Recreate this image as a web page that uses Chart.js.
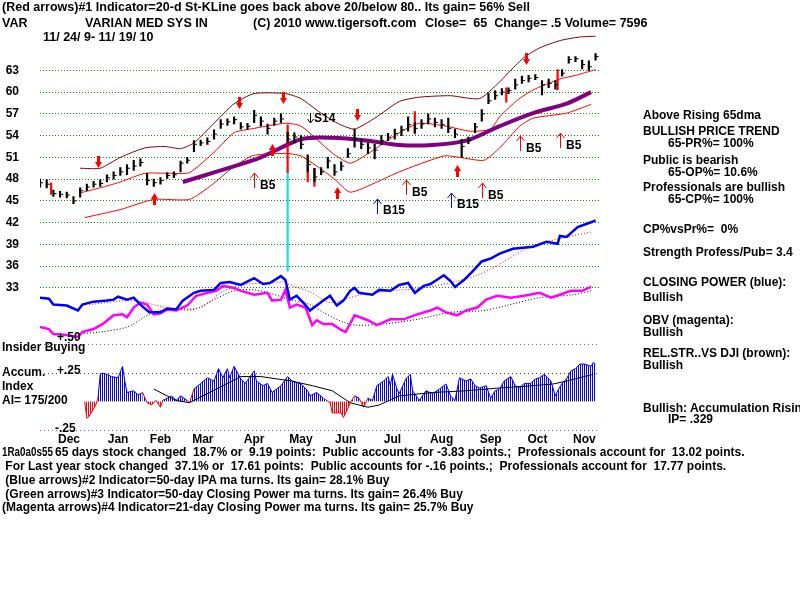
<!DOCTYPE html>
<html><head><meta charset="utf-8">
<script src="https://cdn.jsdelivr.net/npm/chart.js@4.4.1/dist/chart.umd.min.js"></script>
<style>
body{margin:0;background:#fff;}
#wrap{position:relative;width:800px;height:600px;overflow:hidden;background:#fff;}
#c{position:absolute;left:0;top:0;}
.t{position:absolute;font:bold 12px "Liberation Sans",Arial,sans-serif;line-height:14px;white-space:pre;color:#000;}
.h{font-size:12.5px;}
</style></head>
<body><div id="wrap"><canvas id="c" width="800" height="600"></canvas></div>
<script>
// ---------- x axis (trading-day index 0..249, 11/24/09 - 11/19/10) ----------
const monthDays = [13,35,54,73,96,117,137,158,180,202,223,244];
const monthLabels = ["Dec","Jan","Feb","Mar","Apr","May","Jun","Jul","Aug","Sep","Oct","Nov"];
const priceTicks = [33,36,39,42,45,48,51,54,57,60,63];

// ---------- price bars (every 3rd trading day) ----------
const barStep = 3;
const barClose = [47.5,47.3,46.0,45.9,45.8,45.0,46.4,46.9,47.3,47.4,
 48.2,48.5,49.0,49.5,49.8,50.3,47.8,47.5,47.8,48.5,
 48.6,50.2,50.6,52.8,53.0,53.2,54.2,55.6,55.9,56.2,
 55.2,55.3,56.8,56.0,55.0,56.0,56.3,53.5,53.8,52.8,
 50.0,48.3,49.0,50.5,49.0,49.8,51.5,53.5,52.8,52.3,
 52.0,53.3,53.8,54.3,54.8,55.5,55.0,55.6,56.3,55.8,
 55.5,55.0,54.2,52.5,53.3,55.2,57.0,58.8,59.5,60.0,
 60.2,61.0,61.6,61.9,62.0,61.0,61.2,61.0,62.6,64.5,
 64.6,63.8,63.5,64.9];
const barHigh = [48.0,47.9,46.5,46.3,46.2,45.6,46.8,47.3,47.7,47.9,
 48.6,49.0,49.6,50.0,50.6,50.8,48.8,48.0,48.2,48.9,
 49.0,50.5,51.0,53.3,53.4,53.7,54.8,56.2,56.3,56.6,
 55.8,55.7,57.5,56.6,55.6,56.4,57.0,54.5,54.4,54.0,
 51.2,49.5,49.6,51.0,50.0,50.4,52.2,54.9,53.5,53.0,
 52.8,54.0,54.3,54.9,55.3,56.6,55.8,56.2,57.0,56.4,
 56.2,56.4,54.9,53.5,53.8,55.7,57.6,59.8,60.2,60.5,
 60.6,61.8,62.2,62.3,62.4,61.6,61.8,61.6,63.1,64.9,
 64.9,64.4,64.3,65.3];
const barLow = [46.9,46.8,45.6,45.5,45.4,44.6,45.5,46.4,46.9,47.0,
 47.6,48.0,48.5,48.6,49.2,49.8,47.2,47.0,47.3,48.1,
 48.2,49.0,50.2,51.8,52.6,52.8,53.5,55.0,55.4,55.6,
 54.9,54.9,55.8,55.3,54.2,55.4,55.8,53.0,53.0,52.2,
 49.0,47.6,48.6,49.5,48.5,49.2,51.0,52.4,52.2,51.5,
 50.8,52.8,53.3,53.5,54.0,54.6,54.4,55.0,55.6,55.2,
 55.0,54.4,53.7,51.0,52.9,54.4,56.0,58.4,59.0,59.6,
 59.8,60.4,61.2,61.4,61.7,59.6,60.6,60.4,62.2,64.0,
 64.2,63.2,63.0,64.4];
// big-volume red bars and the 6 May drop
const redDays = [5,111,120,123,168,209,232];
const redLow  = [45.9,48.9,47.6,47.0,54.2,58.6,60.3];
const redHigh = [47.5,55.5,51.4,49.5,57.3,60.6,63.1];
const crashDays = [111];
const crashLow = [35.3];
const crashHigh = [48.9];

// ---------- bands ----------
const upperDays = [18,27,36,47,56,63,69,78,87,96,110,117,125,134,141,150,161,170,184,197,206,211,217,224,233,242,249];
const upperVals = [49.5,49.5,51.0,52.3,52.5,52.2,53.0,55.7,58.4,59.8,59.8,59.1,57.3,55.6,54.9,56.4,58.7,59.3,59.5,59.1,61.4,63.0,64.8,66.1,67.1,67.6,67.7];
const midDays = [18,27,36,47,58,67,78,87,96,110,117,131,139,147,161,170,182,193,202,206,214,221,233,240,249];
const midVals = [46.1,46.8,47.6,48.8,48.8,48.9,51.7,54.4,55.0,55.7,55.3,51.6,50.2,51.5,54.4,55.7,55.3,54.6,54.9,56.6,58.9,60.3,61.8,62.3,63.1];
const lowDays = [20,36,51,67,77,86,95,103,112,117,125,132,139,151,161,181,188,199,206,215,221,236,247];
const lowVals = [42.7,43.8,45.2,45.2,47.2,49.5,51.2,51.5,51.5,51.2,49.6,48.0,46.2,47.6,49.0,51.2,51.0,50.6,52.3,55.3,56.4,57.1,58.3];
const ma65Days = [64,81,99,117,131,147,161,176,191,206,221,236,247];
const ma65Vals = [47.6,49.2,51.0,53.5,53.7,53.3,52.7,52.7,53.3,55.3,57.1,58.4,60.0];

// ---------- closing power (blue) and OBV (magenta) ----------
const cpDays = [0,4,6,12,17,19,24,30,33,35,39,42,45,49,54,57,61,64,69,72,78,81,85,90,96,100,103,108,110,112,115,118,121,127,130,133,136,139,141,143,149,152,157,161,165,168,172,175,181,184,186,190,194,198,202,206,212,221,227,232,233,236,241,247,249];
const cpVals = [29.2,28.3,23.3,22.5,18.3,23.3,25.8,26.7,27.5,30,27.5,29.2,23.3,16.7,16.7,20,19.2,26.7,33.3,35,35.8,41.7,42.5,40,45.8,40.8,41.7,47.5,44.2,27.5,30.8,25,18.3,26.7,30.8,22.5,26.7,35,37.5,33.3,31.7,35.8,35,40,41.7,33.3,39.2,40.8,48.3,43.3,38.3,44.2,51.7,60,62.5,66.7,70.8,72.5,76.7,75,81.7,80.8,89.2,93.3,95];
const cpMaDays = [22,42,57,72,81,90,102,109,112,121,130,142,157,172,187,196,205,214,221,236,247];
const cpMaVals = [23.3,26.7,20.8,20.8,33.3,40,41.7,42.5,40,34.2,25,30.8,35,37.5,43.3,48.3,56.7,66.7,73.3,80.8,85];
const obvDays = [0,4,6,12,17,19,24,28,33,37,39,42,45,48,51,54,57,61,66,70,75,79,82,87,90,96,102,104,108,110,112,115,119,122,124,127,131,135,137,141,147,151,157,163,169,175,178,182,187,191,196,200,205,211,217,224,229,233,238,243,247];
const obvVals = [4.2,2.5,-1.7,-2.5,-4.2,0,2.5,6.7,14.2,15,12.5,20.8,25,23.3,15,15.8,19.2,18.3,22.5,30.8,33.3,35,39.2,37.5,35,31.7,33.3,26.7,27.5,35.8,20.8,23.3,20.8,5.8,10,6.7,6.7,1.7,0,14.2,10,5.8,10.8,10.8,15,18.3,20.8,16.7,14.2,18.3,20.8,27.5,30.8,29.2,30.8,33.3,29.2,31.7,35,35,38.3];
const obvMaDays = [17,27,39,49,57,69,78,87,96,104,112,121,127,136,142,154,169,184,199,209,224,239,247];
const obvMaVals = [-1.7,0,4.2,15,19.2,19.2,27.5,35,35.8,32.5,27.5,23.3,16.7,8.3,5.8,6.7,10.8,16.7,18.3,22.5,29.2,31.7,35];

// ---------- relative strength vs DJI and insider line ----------
const rsDays = [3,12,18,21,24,30,39,44,48,54,64,69,75,81,87,94,102,109,113,117,121,127,131,136,142,147,154,161,166,174,179,185,191,197,202,209,218,226,230,234,242,248];
const rsVals = [18,15.3,13.3,14.7,15.3,21.3,24.7,26.7,22,22,24.7,25.3,27.3,29.3,30,28,28,28,25.3,25.3,22,25.3,24.7,26.7,28.7,32,32,33.3,33.3,32,33.3,31.3,32,38,38.7,38,38.7,38,36.7,38.7,41.3,42];
const rsMaDays = [49,64,79,94,109,117,131,147,161,176,191,206,221,236,248];
const rsMaVals = [21.3,24.7,26.7,28,28,25.3,24.7,28.7,32,33.3,35.3,36.7,38,38.7,40.7];
const insiderDays = [20,251];
const insiderVals = [36,36];

// ---------- accumulation index ----------
const accDays = [20,21,22,25,26,27,28,30,32,35,37,38,39,42,44,45,46,48,50,52,54,55,57,59,61,63,66,67,69,72,75,78,80,82,84,85,87,90,92,96,97,100,102,104,108,111,113,117,120,121,124,127,130,131,135,136,138,139,141,143,145,147,149,151,154,156,157,158,160,161,164,166,167,170,173,176,179,182,184,186,188,191,193,195,197,200,202,204,206,208,211,213,215,217,220,222,224,226,229,231,232,234,236,238,240,242,244,247,248,249];
const accVals = [0,-0.147,-0.13,-0.03,0.03,0.24,0.25,0.24,0.22,0.21,
 0.31,0.18,0.08,0.095,0.06,0.07,0.08,-0.01,-0.03,0.01,
 -0.05,0.01,0.03,0.05,0.01,0.05,0.01,-0.01,0.11,0.16,
 0.21,0.18,0.29,0.21,0.29,0.21,0.31,0.2,0.16,0.27,
 0.18,0.14,0.16,0.08,0.14,0.22,0.18,0.155,0.095,0.05,
 0.08,0.03,-0.01,-0.1,-0.1,-0.14,-0.06,-0.01,0.05,0.03,
 -0.05,0.03,0.01,0.14,0.18,0.22,0.14,0.24,0.11,0.07,
 0.2,0.24,0.095,0.01,0.095,0.07,0.11,0.155,0.05,0.01,
 0.21,0.18,0.2,0.14,0.12,0.14,0.03,0.095,0.11,0.18,
 0.22,0.14,0.12,0.16,0.16,0.2,0.21,0.24,0.18,0.05,
 0.095,0.16,0.2,0.27,0.29,0.33,0.33,0.31,0.345,0.33];
const accMaDays = [51,57,61,67,90,99,113,122,131,139,147,152,161,176,191,206,221,230,236,248];
const accMaVals = [0.11,0.05,0.01,-0.01,0.22,0.22,0.18,0.14,0.095,-0.01,-0.05,-0.03,0.05,0.08,0.095,0.12,0.14,0.155,0.18,0.24];
const accTicks = [-0.25,0.25,0.5];

// ---------- signal arrows ----------
const bigDownDays = [26,89,109,142,218];
const bigDownTips = [49.6,57.7,58.4,56.0,63.7];
const bigUpDays = [51,104,133,187];
const bigUpTips = [46.1,52.9,46.9,49.9];
const b5Days = [96,164,198,215,233];
const b5Tips = [48.9,47.9,47.5,53.9,54.4];
const b15Days = [151,184];
const b15Tips = [45.2,46.1];
const s14Days = [121];
const s14Tips = [55.8];

// ---------- texts ----------
const headerTexts = [
 ["(Red arrows)#1 Indicator=20-d St-KLine goes back above 20/below 80.. Its gain= 56% Sell",2,7],
 ["VAR",2,23],["VARIAN MED SYS IN",85,23],["(C) 2010 www.tigersoft.com",253,23],
 ["Close=  65  Change= .5 Volume= 7596",425,23],
 ["11/ 24/ 9- 11/ 19/ 10",43,37]
];
const texts = [
 ["Above Rising 65dma",643,115],["BULLISH PRICE TREND",643,131],["65-PR%= 100%",668,143],
 ["Public is bearish",643,160],["65-OP%= 10.6%",668,172],
 ["Professionals are bullish",643,187],["65-CP%= 100%",668,199],
 ["CP%vsPr%=  0%",643,229],["Strength Profess/Pub= 3.4",643,252],
 ["CLOSING POWER (blue):",643,282],["Bullish",643,297],
 ["OBV (magenta):",643,320],["Bullish",643,332],
 ["REL.STR..VS DJI (brown):",643,353],["Bullish",643,365],
 ["Bullish: Accumulation Rising",643,408],["IP= .329",668,419],
 ["+.50",57,337],["Insider Buying",2,347],["Accum.",2,372],["+.25",57,370],
 ["Index",2,386],["AI= 175/200",2,400],["-.25",55,428],
 ["65 days stock changed  18.7% or  9.19 points:  Public accounts for -3.83 points.;  Professionals account for  13.02 points.",55,452],
 [" For Last year stock changed  37.1% or  17.61 points:  Public accounts for -.16 points.;  Professionals account for  17.77 points.",2,466],
 [" (Blue arrows)#2 Indicator=50-day IPA ma turns. Its gain= 28.1% Buy",2,480],
 [" (Green arrows)#3 Indicator=50-day Closing Power ma turns. Its gain= 26.4% Buy",2,494],
 ["(Magenta arrows)#4 Indicator=21-day Closing Power ma turns. Its gain= 25.7% Buy",2,507]
];

const wrap = document.getElementById('wrap');
function addText(s,x,y,cls){
  const d=document.createElement('div'); d.className='t'+(cls?' '+cls:''); d.textContent=s;
  d.style.left=x+'px'; d.style.top=(y-7)+'px'; wrap.appendChild(d); return d;
}
headerTexts.forEach(([s,x,y])=>addText(s,x,y,'h'));
texts.forEach(([s,x,y])=>addText(s,x,y));
(function(){ const d=addText('1Ra0a0s55',2,452); d.style.transform='scaleX(0.82)'; d.style.transformOrigin='0 0'; })();

const pts = (ds, vs) => ds.map((d,i)=>({x:d, y:vs[i]}));
const barDays = barClose.map((_,i)=>i*barStep);

const tmp = document.createElement('canvas').getContext('2d');
function stripe(color){
  const c=document.createElement('canvas'); c.width=2; c.height=1;
  const g=c.getContext('2d'); g.fillStyle=color; g.fillRect(0,0,1,1);
  return tmp.createPattern(c,'repeat');
}
const bluePat = stripe('#0000ff');
const redPat = stripe('#ff0000');

const FONT = '"Liberation Sans", Arial, sans-serif';

const annot = {
  id:'annot',
  afterDatasetsDraw(chart){
    const ctx=chart.ctx, x=chart.scales.x, y=chart.scales.y;
    ctx.save();
    ctx.fillStyle='#ff0000';
    bigDownDays.forEach((d,i)=>{
      const px=Math.round(x.getPixelForValue(d)), py=Math.round(y.getPixelForValue(bigDownTips[i]));
      ctx.fillRect(px-1, py-12, 3, 7);
      ctx.beginPath(); ctx.moveTo(px-3, py-6); ctx.lineTo(px+4, py-6); ctx.lineTo(px+0.5, py); ctx.closePath(); ctx.fill();
    });
    bigUpDays.forEach((d,i)=>{
      const px=Math.round(x.getPixelForValue(d)), py=Math.round(y.getPixelForValue(bigUpTips[i]));
      ctx.fillRect(px-1, py+5, 3, 7);
      ctx.beginPath(); ctx.moveTo(px-3, py+6); ctx.lineTo(px+4, py+6); ctx.lineTo(px+0.5, py); ctx.closePath(); ctx.fill();
    });
    const thinUp=(px,py,col)=>{
      ctx.strokeStyle=col; ctx.lineWidth=1; ctx.beginPath();
      ctx.moveTo(px+0.5,py); ctx.lineTo(px+0.5,py+15);
      ctx.moveTo(px-3.5,py+5); ctx.lineTo(px+0.5,py); ctx.lineTo(px+4.5,py+5); ctx.stroke();
    };
    ctx.font='bold 12px '+FONT; ctx.textBaseline='middle';
    b5Days.forEach((d,i)=>{
      const px=Math.round(x.getPixelForValue(d)), py=Math.round(y.getPixelForValue(b5Tips[i]));
      thinUp(px,py,'#ff0000'); ctx.fillStyle='#000'; ctx.fillText('B5',px+6,py+13);
    });
    b15Days.forEach((d,i)=>{
      const px=Math.round(x.getPixelForValue(d)), py=Math.round(y.getPixelForValue(b15Tips[i]));
      thinUp(px,py,'#0000ff'); ctx.fillStyle='#000'; ctx.fillText('B15',px+6,py+12);
    });
    s14Days.forEach((d,i)=>{
      const px=Math.round(x.getPixelForValue(d)), py=Math.round(y.getPixelForValue(s14Tips[i]));
      ctx.strokeStyle='#000'; ctx.lineWidth=1; ctx.beginPath();
      ctx.moveTo(px+0.5,py-10); ctx.lineTo(px+0.5,py);
      ctx.moveTo(px-2.5,py-4); ctx.lineTo(px+0.5,py); ctx.lineTo(px+3.5,py-4); ctx.stroke();
      ctx.fillStyle='#000'; ctx.fillText('S14',px+4,py-4);
    });
    ctx.restore();
  }
};

const line = (data, axis, color, width, extra) => Object.assign({
  type:'line', data, yAxisID:axis, borderColor:color, borderWidth:width,
  pointRadius:0, pointHoverRadius:0, tension:0, fill:false
}, extra||{});

new Chart(document.getElementById('c'), {
  type:'line',
  data:{ datasets:[
    {type:'bar', data: barDays.map((d,i)=>({x:d,y:[barLow[i],barHigh[i]]})), yAxisID:'y', backgroundColor:'#000', barThickness:1.5, grouped:false, borderWidth:0},
    {type:'line', data: pts(barDays,barClose), yAxisID:'y', showLine:false, pointStyle:'dash', pointRadius:3, pointBorderWidth:1, pointBorderColor:'#000', pointBackgroundColor:'#000', pointHoverRadius:0},
    {type:'bar', data: redDays.map((d,i)=>({x:d,y:[redLow[i],redHigh[i]]})), yAxisID:'y', backgroundColor:'#ff0000', barThickness:1.5, grouped:false, borderWidth:0},
    {type:'bar', data: crashDays.map((d,i)=>({x:d,y:[crashLow[i],crashHigh[i]]})), yAxisID:'y', backgroundColor:'#00e8e8', barThickness:1.5, grouped:false, borderWidth:0},
    line(pts(ma65Days,ma65Vals),'y','#800080',4,{tension:0.3}),
    line(pts(upperDays,upperVals),'y','#800000',1,{tension:0.2}),
    line(pts(midDays,midVals),'y','#ff0000',1,{tension:0.2}),
    line(pts(lowDays,lowVals),'y','#ff0000',1,{tension:0.2}),
    line(pts(cpDays,cpVals),'cp','#0000ff',2.5),
    line(pts(obvDays,obvVals),'cp','#ff00ff',2.5),
    line(pts(cpMaDays,cpMaVals),'cp','#ff0000',1,{borderDash:[1,2],tension:0.3}),
    line(pts(obvMaDays,obvMaVals),'cp','#000000',1,{borderDash:[1,2],tension:0.3}),
    line(pts(rsDays,rsVals),'rs','#000000',2.5),
    line(pts(rsMaDays,rsMaVals),'rs','#ff0000',1,{borderDash:[1,2],tension:0.3}),
    line(pts(insiderDays,insiderVals),'rs','#800060',1),
    line(pts(accMaDays,accMaVals),'acc','#000000',1),
    line(pts(accDays,accVals),'acc','#0000ff',1,{fill:{target:'origin',above:bluePat,below:redPat},
      segment:{borderColor:c=>(c.p0.parsed.y<0||c.p1.parsed.y<0)?'#ff0000':'#0000ff'}})
  ]},
  options:{
    responsive:false, animation:false, devicePixelRatio:1,
    layout:{padding:{top:20,right:200,bottom:150,left:0}},
    plugins:{legend:{display:false}, tooltip:{enabled:false}},
    events:[],
    scales:{
      x:{type:'linear', min:0, max:251, offset:false,
        grid:{display:false, drawTicks:false, tickLength:0}, border:{display:false},
        afterBuildTicks:s=>{s.ticks=monthDays.map(v=>({value:v}));},
        afterFit:s=>{s.height=20;},
        ticks:{autoSkip:false, maxRotation:0, padding:2, color:'#000', font:{family:FONT,size:12,weight:'bold'},
          callback:(v,i)=>monthLabels[i]}},
      y:{type:'linear', position:'left', weight:1, min:13.405, max:68.811,
        afterBuildTicks:s=>{s.ticks=priceTicks.map(v=>({value:v}));},
        afterFit:s=>{s.width=40;},
        grid:{color:'#009000', lineWidth:1, drawTicks:false},
        border:{display:false, dash:[1,2]},
        ticks:{padding:21, color:'#000', font:{family:FONT,size:12,weight:'bold'}}},
      acc:{type:'linear', position:'left', weight:0, min:-0.25, max:3.2845,
        afterBuildTicks:s=>{s.ticks=accTicks.map(v=>({value:v}));},
        afterFit:s=>{s.width=0;},
        grid:{color:c=>(c.tick&&c.tick.value===0.25)?'#404040':'#c040a0', lineWidth:1, drawTicks:false},
        border:{display:false, dash:[1,3]},
        ticks:{display:false}},
      cp:{type:'linear', display:false, min:-83.33, max:258.33},
      rs:{type:'linear', display:false, min:-20, max:253.33}
    }
  },
  plugins:[annot]
});
</script></body></html>
